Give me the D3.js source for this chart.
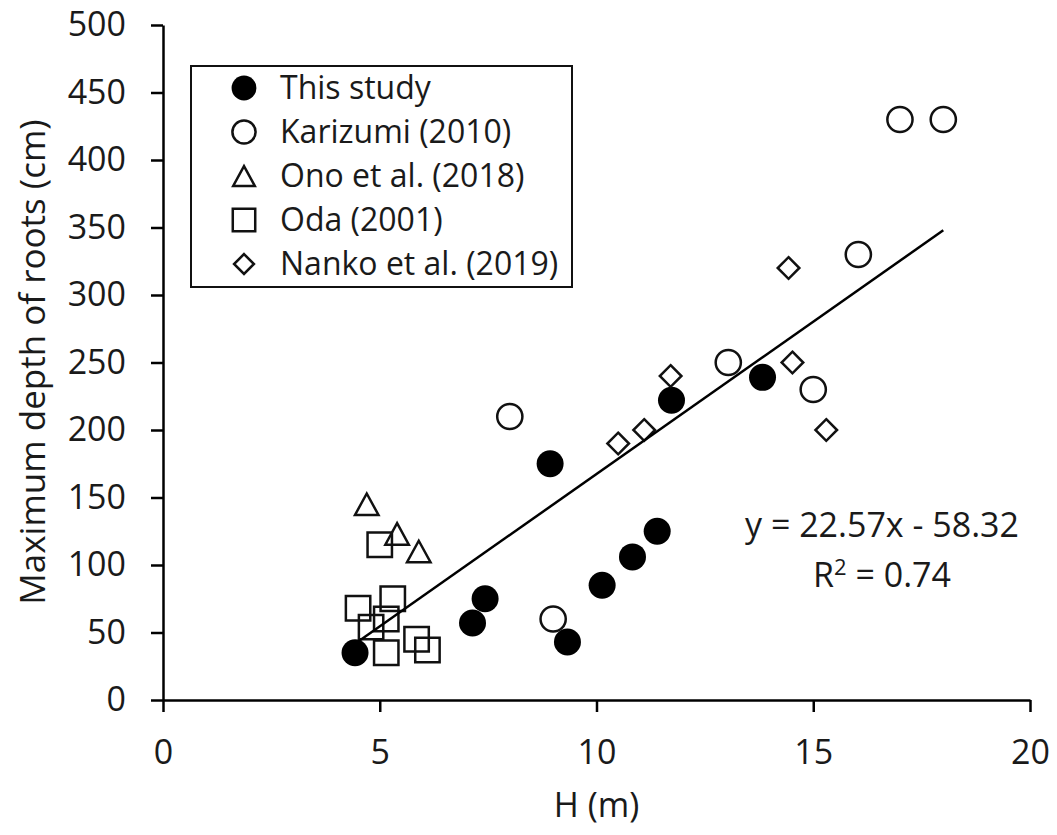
<!DOCTYPE html>
<html>
<head>
<meta charset="utf-8">
<script src="https://cdn.jsdelivr.net/npm/d3@7"></script>
<style>
    body { margin: 0; background: #fff; }
    text { font-family: "Open Sans", "Noto Sans", sans-serif; fill: #1a1a1a; }
</style>
</head>
<body>
<div id="svg"></div>
<script>
// data: H (m) and maximum root depth (cm)
var thisStudyH = [4.43, 7.14, 7.43, 8.93, 9.33, 10.13, 10.83, 11.4, 11.73, 13.83];
var thisStudyD = [35, 57, 75, 175, 43, 85, 106, 125, 222, 239];

var karizumiH = [8.0, 9.0, 13.04, 15.0, 16.04, 17.0, 18.0];
var karizumiD = [210, 60, 250, 230, 330, 430, 430];

var onoH = [4.7, 5.4, 5.9];
var onoD = [145, 123, 110];

var odaH = [5.0, 4.5, 5.3, 5.15, 4.8, 5.15, 5.85, 6.1];
var odaD = [115, 68, 75, 60, 54, 35, 45, 37];

var nankoH = [10.5, 11.1, 11.71, 14.43, 14.52, 15.3];
var nankoD = [190, 200, 240, 320, 250, 200];

var seriesNames = ["This study", "Karizumi (2010)", "Ono et al. (2018)", "Oda (2001)", "Nanko et al. (2019)"];

var xTicks = [0, 5, 10, 15, 20];
var yTicks = [0, 50, 100, 150, 200, 250, 300, 350, 400, 450, 500];

// trend line as printed on the figure
var slope = 22.57, intercept = -58.32;
var eqLabel = "y = 22.57x - 58.32";
var r2Label = "0.74";

// set the dimensions and margins of the graph
var margin = { top: 25, right: 27, bottom: 135, left: 163 },
    width = 1057 - margin.left - margin.right,
    height = 835 - margin.top - margin.bottom;

var x = d3.scaleLinear().domain([0, 20]).range([0, width]);
var y = d3.scaleLinear().domain([0, 500]).range([height, 0]);

var svg = d3.select("#svg").append("svg")
    .attr("width", 1057)
    .attr("height", 835)
    .append("g")
    .attr("transform", "translate(" + margin.left + "," + margin.top + ")");

// marker shapes, s = scale factor
var triangle = {
    draw: function(ctx, s) {
        var w = 23.5 * s, h = 21.5 * s;
        ctx.moveTo(0, -h / 2);
        ctx.lineTo(w / 2, h / 2);
        ctx.lineTo(-w / 2, h / 2);
        ctx.closePath();
    }
};
var diamond = {
    draw: function(ctx, s) {
        var r = 10.8 * s;
        ctx.moveTo(0, -r);
        ctx.lineTo(r, 0);
        ctx.lineTo(0, r);
        ctx.lineTo(-r, 0);
        ctx.closePath();
    }
};
var square = {
    draw: function(ctx, s) {
        var a = 12.2 * s;
        ctx.rect(-a, -a, 2 * a, 2 * a);
    }
};
var openCircle = {
    draw: function(ctx, s) {
        var r = 12.6 * s;
        ctx.moveTo(r, 0);
        ctx.arc(0, 0, r, 0, 2 * Math.PI);
    }
};
var filledCircle = {
    draw: function(ctx, s) {
        var r = 13.5 * s;
        ctx.moveTo(r, 0);
        ctx.arc(0, 0, r, 0, 2 * Math.PI);
    }
};

var series = [
    { name: seriesNames[0], h: thisStudyH, d: thisStudyD, type: filledCircle, filled: true },
    { name: seriesNames[1], h: karizumiH, d: karizumiD, type: openCircle, filled: false },
    { name: seriesNames[2], h: onoH, d: onoD, type: triangle, filled: false },
    { name: seriesNames[3], h: odaH, d: odaD, type: square, filled: false },
    { name: seriesNames[4], h: nankoH, d: nankoD, type: diamond, filled: false }
];

function styleMarker(sel, sr) {
    sel.style("fill", sr.filled ? "#000" : "none")
        .style("stroke", sr.filled ? "none" : "#111")
        .style("stroke-width", 2.5);
}

// axes
var yAxis = svg.append("g")
    .call(d3.axisLeft(y).tickValues(yTicks).tickSize(12).tickSizeOuter(0).tickPadding(25));

var xAxis = svg.append("g")
    .attr("transform", "translate(0," + height + ")")
    .call(d3.axisBottom(x).tickValues(xTicks).tickSize(12).tickSizeOuter(0).tickPadding(28));

[xAxis, yAxis].forEach(function(ax) {
    ax.selectAll("path, line").style("stroke", "#000").style("stroke-width", 2.5);
    ax.selectAll("text").style("font-size", "34px").style("fill", "#1a1a1a")
        .style("font-family", "'Open Sans', sans-serif");
});

// axis titles
svg.append("text")
    .attr("transform", "translate(" + (45 - margin.left) + "," + (362 - margin.top) + ") rotate(-90)")
    .attr("text-anchor", "middle")
    .style("font-size", "35px")
    .text("Maximum depth of roots (cm)");

svg.append("text")
    .attr("x", width / 2)
    .attr("y", 817 - margin.top)
    .attr("text-anchor", "middle")
    .style("font-size", "34px")
    .text("H (m)");

// points
series.forEach(function(sr) {
    var pts = sr.h.map(function(v, i) { return { h: v, d: sr.d[i] }; });
    svg.append("g").selectAll("path")
        .data(pts)
        .enter().append("path")
        .attr("transform", function(p) {
            return "translate(" + x(p.h) + "," + y(p.d) + ")";
        })
        .attr("d", d3.symbol().type(sr.type).size(1))
        .call(styleMarker, sr);
});

// trend line over the full data range
var allH = [].concat(thisStudyH, karizumiH, onoH, odaH, nankoH);
var hExt = d3.extent(allH);
svg.append("path")
    .datum(hExt)
    .attr("d", d3.line()
        .x(function(h) { return x(h); })
        .y(function(h) { return y(slope * h + intercept); }))
    .style("fill", "none")
    .style("stroke", "#000")
    .style("stroke-width", 2.5);

// equation labels
svg.append("text")
    .attr("x", 882 - margin.left)
    .attr("y", 537 - margin.top)
    .attr("text-anchor", "middle")
    .style("font-size", "34px")
    .text(eqLabel);

var r2 = svg.append("text")
    .attr("x", 882 - margin.left)
    .attr("y", 587 - margin.top)
    .attr("text-anchor", "middle")
    .style("font-size", "34px");
r2.append("tspan").text("R");
r2.append("tspan").attr("dy", -12).style("font-size", "22px").text("2");
r2.append("tspan").attr("dy", 12).text(" = " + r2Label);

// legend
var legend = svg.append("g")
    .attr("transform", "translate(" + (191 - margin.left) + "," + (66 - margin.top) + ")");

legend.append("rect")
    .attr("width", 381)
    .attr("height", 221)
    .style("fill", "#fff")
    .style("stroke", "#111")
    .style("stroke-width", 2);

series.forEach(function(sr, i) {
    var row = legend.append("g")
        .attr("transform", "translate(53," + (22 + i * 44) + ")");
    row.append("path")
        .attr("d", d3.symbol().type(sr.type).size(0.92))
        .call(styleMarker, sr);
    row.append("text")
        .attr("x", 36)
        .attr("dy", ".35em")
        .style("font-size", "32px")
        .text(sr.name);
});
</script>
</body>
</html>
